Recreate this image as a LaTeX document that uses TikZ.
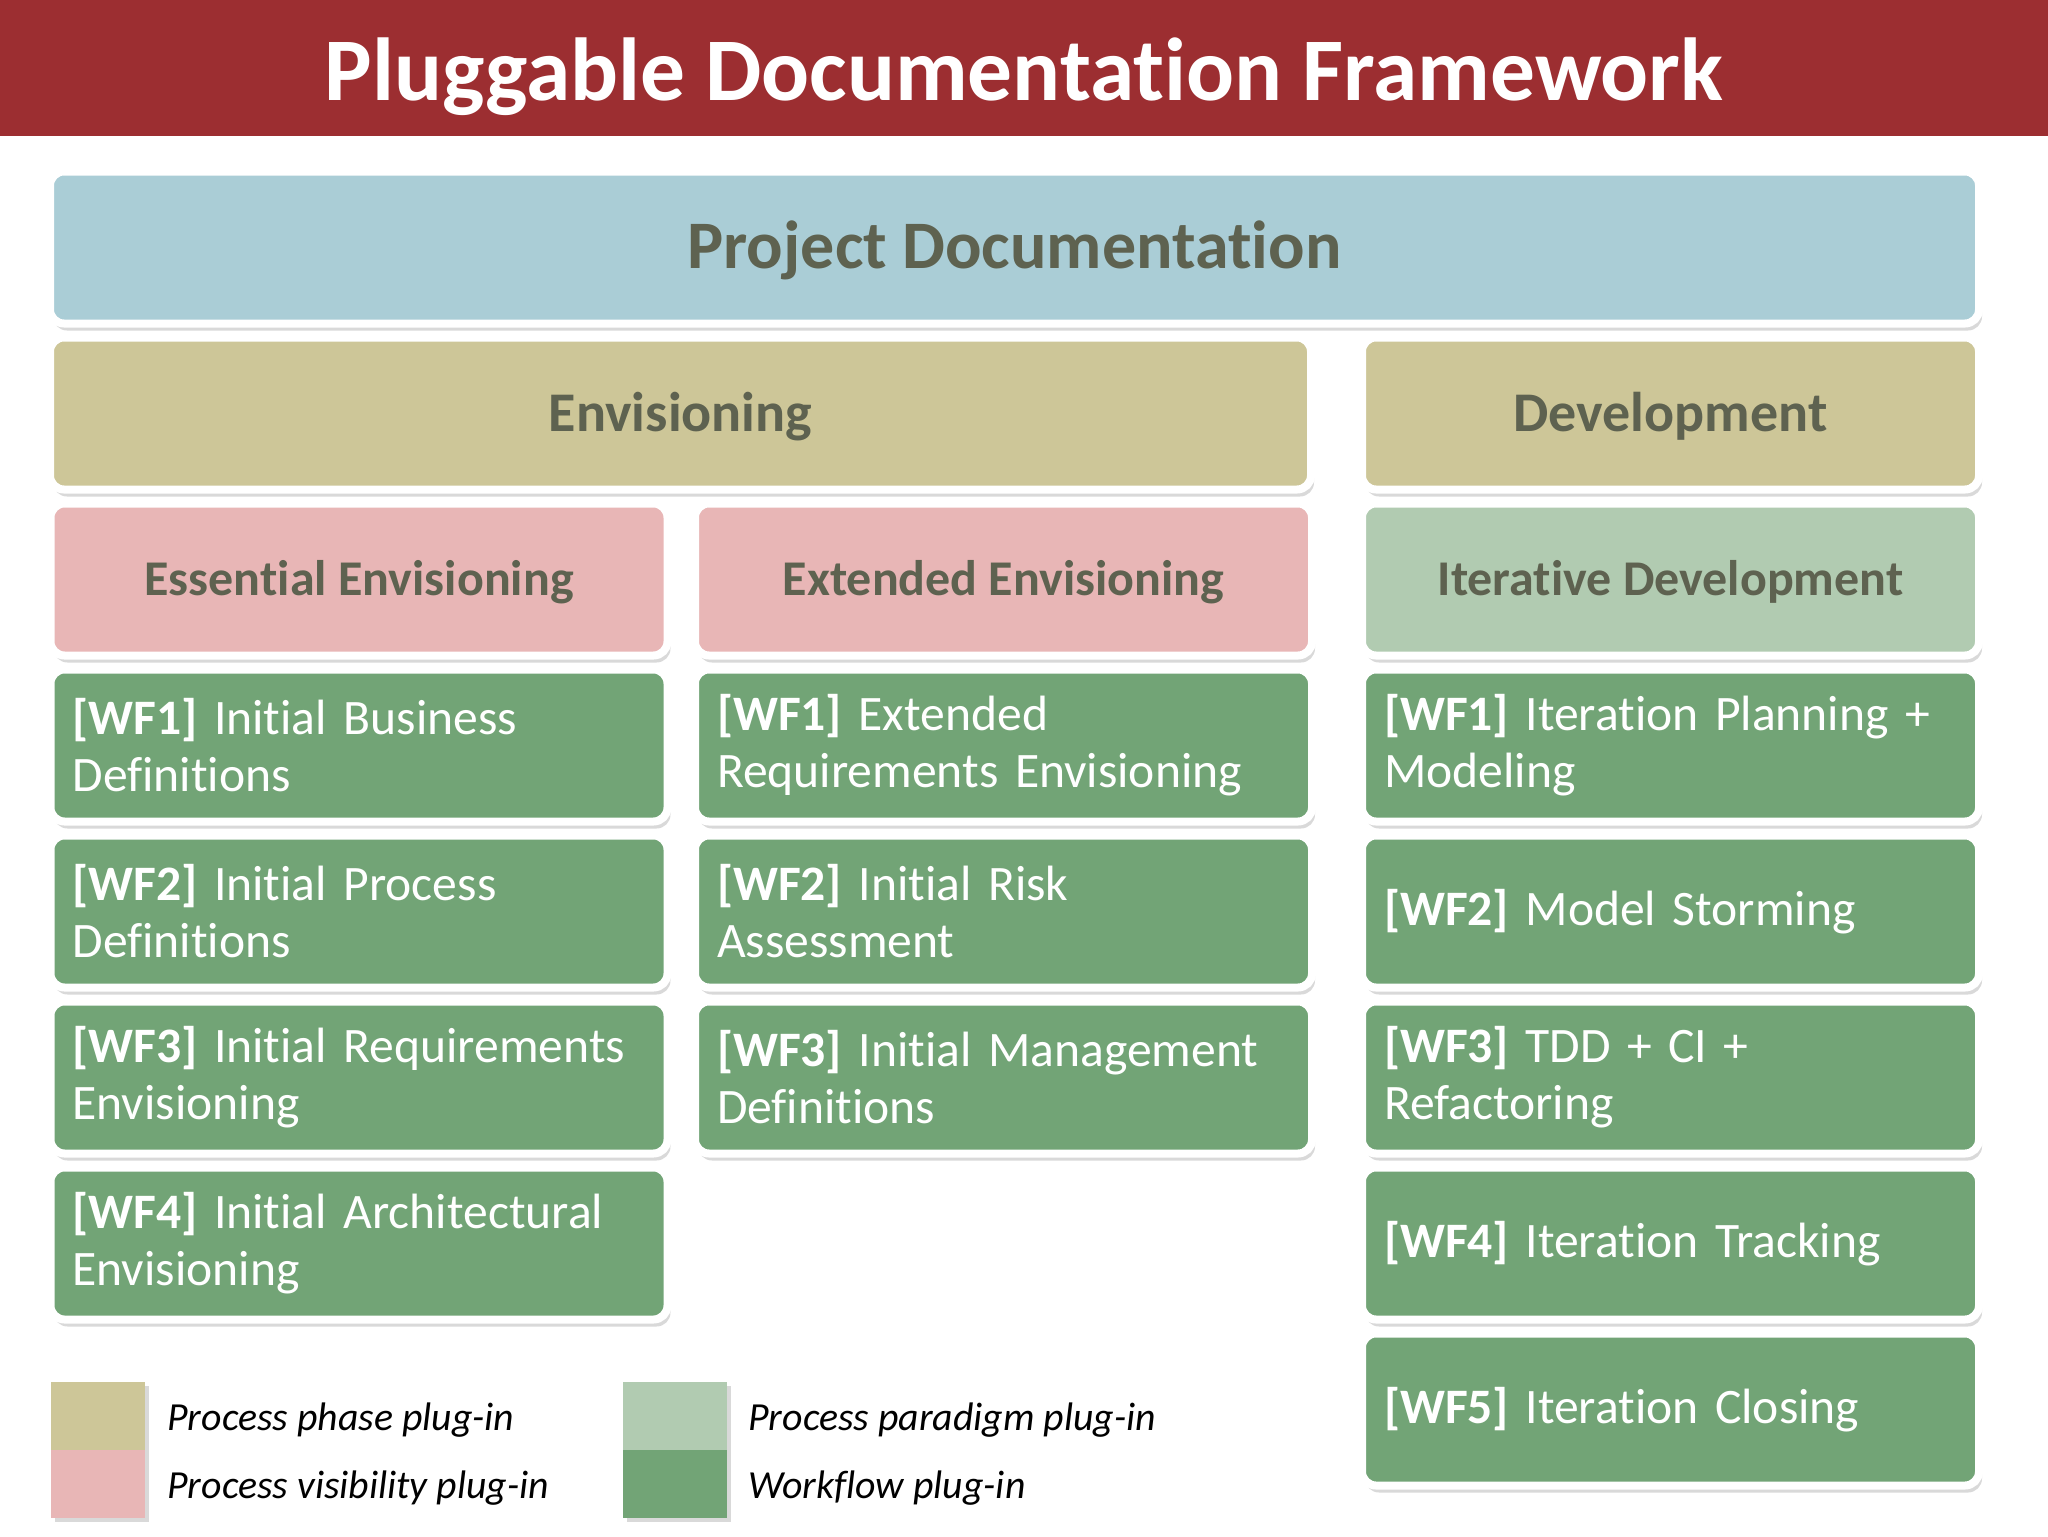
\documentclass[tikz,border=0pt]{standalone}
\usepackage{fontspec}
\setmainfont{Carlito}[Ligatures=CommonOff]
\usetikzlibrary{positioning,shadows}

\definecolor{barred}{RGB}{156,46,49}
\definecolor{docblue}{RGB}{170,205,214}
\definecolor{phase}{RGB}{205,198,152}
\definecolor{visib}{RGB}{232,182,182}
\definecolor{paradigm}{RGB}{177,203,177}
\definecolor{flow}{RGB}{114,164,118}
\definecolor{headtxt}{RGB}{94,98,80}

\begin{document}
\begin{tikzpicture}[node distance=83pt,
	box/.style = {draw=white, line width=4pt, rounded corners=7pt, minimum height=76pt, minimum width=308.5pt,
		drop shadow={shadow xshift=1.5pt, shadow yshift=-3.5pt, opacity=.3}},
	head/.style = {box, text=headtxt, font=\fontsize{#1}{#1}\selectfont\bfseries, text height=0.63*#1pt, text depth=0pt},
	wf/.style = {box, fill=flow, text=white, align=left, text width=286.5pt, inner xsep=11pt,
		font=\fontsize{24.8}{28.5}\selectfont},
	key/.style = {minimum height=34pt, inner sep=0pt, drop shadow={shadow xshift=2pt, shadow yshift=-2pt, opacity=.3}},
	note/.style = {anchor=base west, inner sep=0pt, font=\fontsize{19.9}{23}\selectfont\itshape}]
	\useasboundingbox (0,0) rectangle (1024pt,-768pt);
	% title bar
	\node[fill=barred, minimum width=1024pt, minimum height=68pt, inner sep=0pt, anchor=north west] (bar) at (0,0) {};
	\node[anchor=base, text=white, font=\fontsize{44.7}{54}\selectfont\bfseries] (title) at (512pt,-50pt) {Pluggable Documentation Framework};
	% plug-in boxes
	\node[head=34, fill=docblue, minimum width=964.5pt] (pd) at (507.25pt,-123.75pt) {Project Documentation};
	\node[head=28, fill=phase, minimum width=630.5pt] (env) at (340.25pt,-206.75pt) {Envisioning};
	\node[head=28, fill=phase] (dev) at (835.25pt,-206.75pt) {Development};
	\node[head=25, fill=visib] (ess) at (179.5pt,-289.75pt) {Essential Envisioning};
	\node[head=25, fill=visib] (ext) at (501.75pt,-289.75pt) {Extended Envisioning};
	\node[head=25, fill=paradigm] (itd) at (835.25pt,-289.75pt) {Iterative Development};
	% workflows
	\node[wf] (e1) [below of=ess] {\textbf{[WF1]} Initial Business\\Definitions};
	\node[wf] (e2) [below of=e1] {\textbf{[WF2]} Initial Process\\Definitions};
	\node[wf] (e3) [below of=e2] {\textbf{[WF3]} Initial Requirements\\Envisioning};
	\node[wf] (e4) [below of=e3] {\textbf{[WF4]} Initial Architectural\\Envisioning};
	\node[wf] (x1) [below of=ext] {\textbf{[WF1]} Extended\\Requirements Envisioning};
	\node[wf] (x2) [below of=x1] {\textbf{[WF2]} Initial Risk\\Assessment};
	\node[wf] (x3) [below of=x2] {\textbf{[WF3]} Initial Management\\Definitions};
	\node[wf] (d1) [below of=itd] {\textbf{[WF1]} Iteration Planning +\\Modeling};
	\node[wf] (d2) [below of=d1] {\textbf{[WF2]} Model Storming};
	\node[wf] (d3) [below of=d2] {\textbf{[WF3]} TDD + CI +\\Refactoring};
	\node[wf] (d4) [below of=d3] {\textbf{[WF4]} Iteration Tracking};
	\node[wf] (d5) [below of=d4] {\textbf{[WF5]} Iteration Closing};
	% legend
	\node[key, fill=phase, minimum width=47pt] (k1) at (49pt,-708pt) {};
	\node[key, fill=visib, minimum width=47pt] (k2) [below of=k1, node distance=34pt] {};
	\node[key, fill=paradigm, minimum width=52pt] (k3) at (337.5pt,-708pt) {};
	\node[key, fill=flow, minimum width=52pt] (k4) [below of=k3, node distance=34pt] {};
	\node[note] (n1) at (83.5pt,-715pt) {Process phase plug-in};
	\node[note] (n2) at (83.5pt,-749pt) {Process visibility plug-in};
	\node[note] (n3) at (374pt,-715pt) {Process paradigm plug-in};
	\node[note] (n4) at (374pt,-749pt) {Workflow plug-in};
\end{tikzpicture}
\end{document}
